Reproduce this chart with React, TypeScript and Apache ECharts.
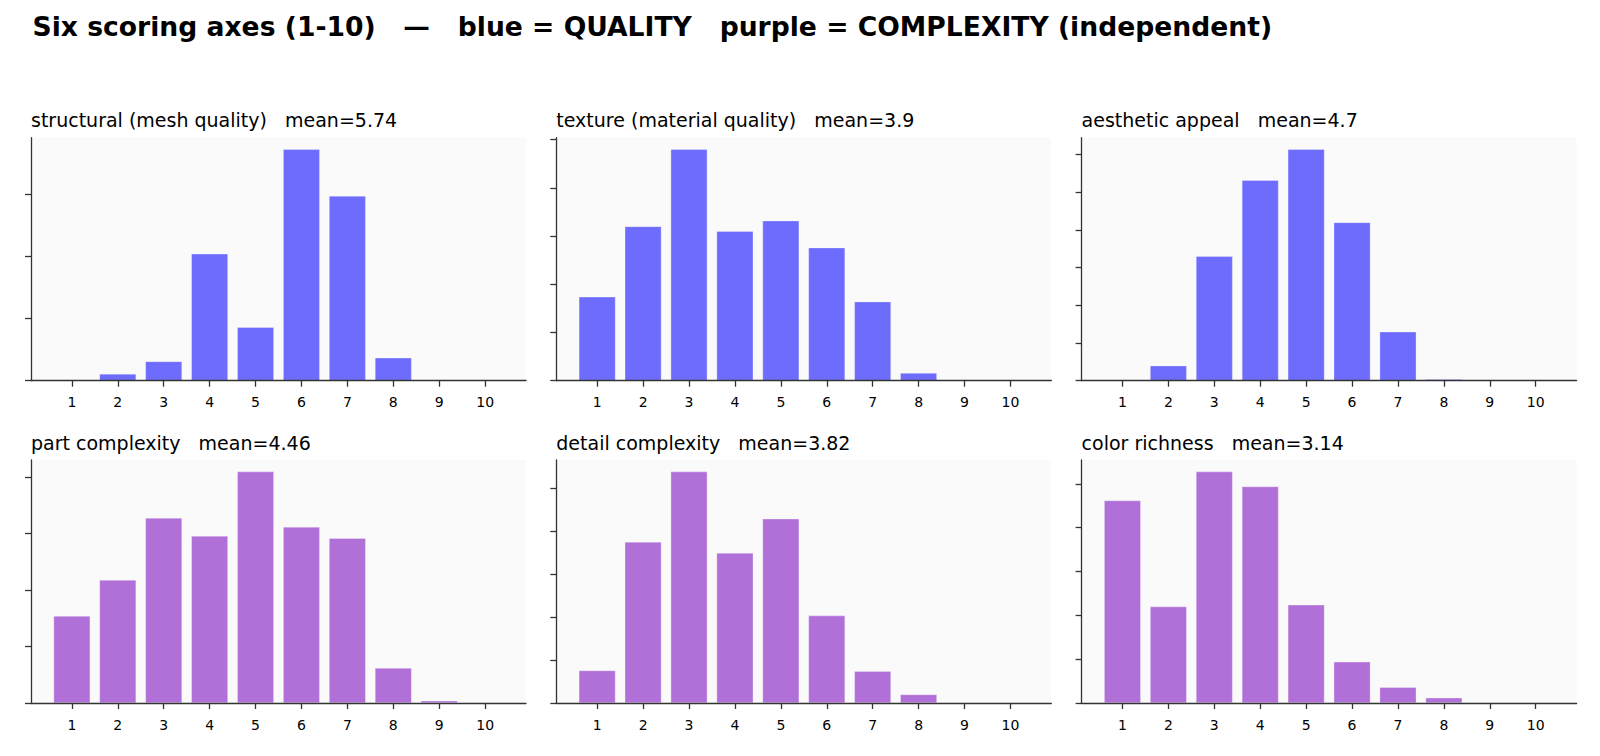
import React, { useEffect, useRef } from "react";
import * as echarts from "echarts";

// ---- data (counts per score 1..10) ----
const SCORES = [1, 2, 3, 4, 5, 6, 7, 8, 9, 10];
const TICK_LABELS = ["1", "2", "3", "4", "5", "6", "7", "8", "9", "10"];

const STRUCTURAL = [0, 11, 31, 204, 86, 372, 297, 37, 0, 0];
const TEXTURE = [87, 160, 240, 155, 166, 138, 82, 8, 0, 0];
const AESTHETIC = [1, 20, 165, 266, 307, 210, 65, 2, 0, 0];
const PART = [77, 109, 164, 148, 205, 156, 146, 31, 2, 0];
const DETAIL = [38, 188, 270, 175, 215, 102, 37, 10, 0, 0];
const COLOR = [231, 110, 264, 247, 112, 47, 18, 6, 0, 0];

const PANEL_NAMES = [
  "structural (mesh quality)",
  "texture (material quality)",
  "aesthetic appeal",
  "part complexity",
  "detail complexity",
  "color richness",
];
const MEAN_LABELS = ["5.74", "3.9", "4.7", "4.46", "3.82", "3.14"];
const Y_TICK_STEP = [100, 50, 50, 50, 50, 50];
const KINDS = ["quality", "quality", "quality", "complexity", "complexity", "complexity"];

const SUPTITLE =
  "Six scoring axes (1-10)   \u2014   blue = QUALITY   purple = COMPLEXITY (independent)";

// ---- styling ----
const BLUE = "#6e6cfd";
const PURPLE = "#b070d8";
const SPINE = "#333333";
const FONT = "DejaVu Sans";
const COL_LEFT = [31, 556.3, 1081.6];
const ROW_TOP = [137.7, 460];
const PANEL_W = 495;
const PANEL_H = 243;

export default function App() {
  const ref = useRef<HTMLDivElement>(null);

  useEffect(() => {
    document.body.style.margin = "0";
    if (!ref.current) return;
    const chart = echarts.init(ref.current, null, { renderer: "svg" });

    const allData = [STRUCTURAL, TEXTURE, AESTHETIC, PART, DETAIL, COLOR];

    const grids: any[] = [];
    const xAxes: any[] = [];
    const yAxes: any[] = [];
    const series: any[] = [];
    const titles: any[] = [
      {
        text: SUPTITLE,
        left: 32.5,
        top: 13,
        padding: 0,
        textStyle: { fontFamily: FONT, fontWeight: "bold", fontSize: 26.6, color: "#000" },
      },
    ];

    allData.forEach((vals, i) => {
      const col = i % 3;
      const row = Math.floor(i / 3);
      const left = COL_LEFT[col];
      const top = ROW_TOP[row];
      const maxV = Math.max(...vals) * 1.05;
      const step = Y_TICK_STEP[i];
      const yTicks: number[] = [];
      for (let v = 0; v <= maxV; v += step) yTicks.push(v);

      grids.push({
        left,
        top,
        width: PANEL_W,
        height: PANEL_H,
        show: true,
        backgroundColor: "#fafafa",
        borderWidth: 0,
      });
      xAxes.push({
        type: "value",
        gridIndex: i,
        min: 0.11,
        max: 10.89,
        z: 5,
        splitLine: { show: false },
        axisLine: { show: true, onZero: false, lineStyle: { color: SPINE, width: 1.3 } },
        axisTick: {
          show: true,
          customValues: SCORES,
          length: 6,
          lineStyle: { color: SPINE, width: 1.3 },
        },
        axisLabel: {
          show: true,
          customValues: SCORES,
          formatter: (v: number) => TICK_LABELS[SCORES.indexOf(v)] ?? String(v),
          color: "#000",
          fontFamily: FONT,
          fontSize: 14,
          margin: 14.5,
        },
      });
      yAxes.push({
        type: "value",
        gridIndex: i,
        min: 0,
        max: maxV,
        z: 5,
        splitLine: { show: false },
        axisLine: { show: true, onZero: false, lineStyle: { color: SPINE, width: 1.3 } },
        axisTick: {
          show: true,
          customValues: yTicks,
          length: 6,
          lineStyle: { color: SPINE, width: 1.3 },
        },
        axisLabel: { show: false },
      });
      series.push({
        type: "bar",
        xAxisIndex: i,
        yAxisIndex: i,
        barWidth: "80%",
        z: 2,
        data: vals.map((v, j) => [SCORES[j], v]),
        itemStyle: {
          color: KINDS[i] === "quality" ? BLUE : PURPLE,
          borderColor: "rgba(255,255,255,0.5)",
          borderWidth: 0.6,
        },
        silent: true,
      });
      titles.push({
        text: `${PANEL_NAMES[i]}   mean=${MEAN_LABELS[i]}`,
        left: left,
        top: top - 27,
        padding: 0,
        textStyle: { fontFamily: FONT, fontWeight: "normal", fontSize: 19, color: "#000" },
      });
    });

    chart.setOption({
      animation: false,
      backgroundColor: "#ffffff",
      title: titles,
      grid: grids,
      xAxis: xAxes,
      yAxis: yAxes,
      series,
    });

    return () => chart.dispose();
  }, []);

  return <div ref={ref} style={{ width: 1600, height: 756 }} />;
}
